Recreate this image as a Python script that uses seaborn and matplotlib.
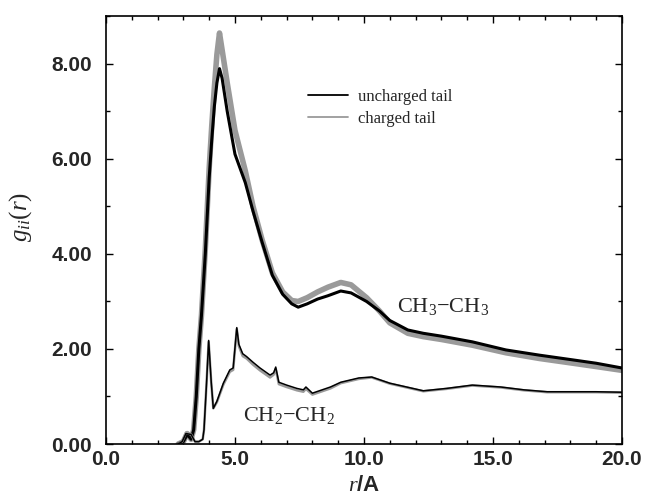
import numpy as np
import pandas as pd
import matplotlib
matplotlib.use("Agg")
import matplotlib.pyplot as plt
from matplotlib.ticker import MultipleLocator, FormatStrFormatter
import seaborn as sns

# CH3-CH3 radial distribution, uncharged tail
r_ch3_unch = [2.8, 3.0, 3.15, 3.3, 3.4, 3.5, 3.6, 3.7, 3.85, 4.0, 4.1, 4.2, 4.3, 4.4,
              4.5, 4.7, 5.0, 5.4, 5.7, 6.05, 6.45, 6.85, 7.2, 7.45, 7.8, 8.2, 8.6,
              9.1, 9.5, 10.1, 10.6, 11.0, 11.7, 12.3, 13.0, 14.2, 15.5, 16.8, 18.1,
              19.0, 20.0]
g_ch3_unch = [0.0, 0.05, 0.2, 0.1, 0.3, 1.0, 2.0, 2.7, 4.0, 5.6, 6.4, 7.1, 7.6, 7.9,
              7.7, 7.0, 6.1, 5.5, 4.9, 4.25, 3.55, 3.15, 2.95, 2.88, 2.95, 3.05, 3.12,
              3.22, 3.18, 3.0, 2.8, 2.6, 2.4, 2.33, 2.27, 2.15, 1.98, 1.87, 1.77,
              1.7, 1.6]

# CH3-CH3 radial distribution, charged tail
r_ch3_ch = r_ch3_unch
g_ch3_ch = [0.0, 0.05, 0.22, 0.1, 0.3, 1.0, 2.0, 2.7, 4.1, 5.8, 6.7, 7.5, 8.2, 8.65,
            8.3, 7.6, 6.6, 5.75, 5.0, 4.3, 3.6, 3.2, 3.02, 3.0, 3.08, 3.2, 3.3,
            3.4, 3.35, 3.08, 2.8, 2.55, 2.33, 2.26, 2.2, 2.08, 1.92, 1.8, 1.7,
            1.63, 1.55]

# CH2-CH2 radial distribution, uncharged tail
r_ch2_unch = [2.8, 2.95, 3.1, 3.3, 3.45, 3.6, 3.75, 3.8, 3.9, 3.98, 4.08, 4.16, 4.3,
              4.55, 4.8, 4.93, 5.07, 5.15, 5.3, 5.45, 5.7, 5.97, 6.36, 6.5, 6.58,
              6.7, 7.0, 7.4, 7.65, 7.75, 8.0, 8.7, 9.1, 9.8, 10.3, 11.0, 12.3, 13.2,
              14.2, 15.3, 16.2, 17.1, 18.1, 19.0, 20.0]
g_ch2_unch = [0.0, 0.05, 0.22, 0.2, 0.05, 0.05, 0.1, 0.3, 1.3, 2.18, 1.3, 0.75, 0.9,
              1.28, 1.56, 1.6, 2.45, 2.1, 1.9, 1.84, 1.72, 1.6, 1.45, 1.5, 1.62,
              1.3, 1.24, 1.17, 1.14, 1.2, 1.07, 1.2, 1.3, 1.39, 1.41, 1.28, 1.12,
              1.17, 1.24, 1.2, 1.14, 1.1, 1.1, 1.1, 1.09]

# CH2-CH2 radial distribution, charged tail
r_ch2_ch = r_ch2_unch
g_ch2_ch = [0.0, 0.05, 0.24, 0.2, 0.05, 0.05, 0.1, 0.3, 1.3, 2.15, 1.3, 0.75, 0.88,
            1.25, 1.52, 1.56, 2.42, 2.06, 1.85, 1.8, 1.67, 1.55, 1.4, 1.46, 1.58,
            1.26, 1.2, 1.13, 1.1, 1.16, 1.04, 1.17, 1.28, 1.37, 1.4, 1.27, 1.11,
            1.16, 1.23, 1.19, 1.13, 1.09, 1.09, 1.09, 1.08]

x_ticks = [0, 5, 10, 15, 20]
y_ticks = [0, 2, 4, 6, 8]

sns.set_theme(style="ticks")
plt.rcParams["font.family"] = ["Liberation Sans", "DejaVu Sans"]
plt.rcParams["mathtext.fontset"] = "custom"
plt.rcParams["mathtext.rm"] = "Liberation Serif"
plt.rcParams["mathtext.it"] = "Liberation Serif:italic"

fig = plt.figure(figsize=(6.45, 4.99), dpi=100)
ax = fig.add_axes([0.1643, 0.1102, 0.8, 0.857])

GRAY = "#9a9a9a"

sns.lineplot(x=r_ch3_ch, y=g_ch3_ch, ax=ax, color=GRAY, lw=4.0,
             estimator=None, label="charged tail")
sns.lineplot(x=r_ch3_unch, y=g_ch3_unch, ax=ax, color="black", lw=2.2,
             estimator=None, label="uncharged tail")
sns.lineplot(x=r_ch2_ch, y=g_ch2_ch, ax=ax, color=GRAY, lw=1.8,
             estimator=None, legend=False)
sns.lineplot(x=r_ch2_unch, y=g_ch2_unch, ax=ax, color="black", lw=1.1,
             estimator=None, legend=False)

ax.set_xlim(0, 20)
ax.set_ylim(0, 9)
ax.set_xticks(x_ticks)
ax.set_yticks(y_ticks)
ax.xaxis.set_minor_locator(MultipleLocator(1))
ax.yaxis.set_minor_locator(MultipleLocator(1))
ax.xaxis.set_major_formatter(FormatStrFormatter("%.1f"))
ax.yaxis.set_major_formatter(FormatStrFormatter("%.2f"))

ax.tick_params(which="both", direction="in", top=True, right=True,
               color="black", width=1.0)
ax.tick_params(which="major", length=5)
ax.tick_params(which="minor", length=3)
ax.tick_params(axis="x", which="major", pad=4)
ax.tick_params(axis="y", which="major", pad=10)
for lab in ax.get_xticklabels() + ax.get_yticklabels():
    lab.set_fontweight("bold")
    lab.set_fontsize(15)
for sp in ax.spines.values():
    sp.set_linewidth(1.2)
    sp.set_color("black")

ax.set_xlabel(r"$\mathit{r}$/A", fontsize=16, fontweight="bold")
ax.xaxis.set_label_coords(0.5, -0.072)
ax.set_ylabel(r"$g_{ii}(r)$", fontsize=18)
ax.yaxis.set_label_coords(-0.14, 0.53)

ax.text(13.05, 2.9, "CH$_3$\u2212CH$_3$", fontsize=16, family="Liberation Serif",
        ha="center", va="center")
ax.text(7.1, 0.6, "CH$_2$\u2212CH$_2$", fontsize=16, family="Liberation Serif",
        ha="center", va="center")

handles, labels = ax.get_legend_handles_labels()
order = [labels.index("uncharged tail"), labels.index("charged tail")]
leg = ax.legend([handles[i] for i in order], [labels[i] for i in order],
                loc="upper left", bbox_to_anchor=(0.3915, 0.83), frameon=False,
                prop={"family": "Liberation Serif", "size": 12},
                handlelength=2.4, handletextpad=0.6, labelspacing=0.35,
                borderpad=0, borderaxespad=0)
for ln in leg.get_lines():
    ln.set_linewidth(1.3)

fig.savefig("out.png", dpi=100)
